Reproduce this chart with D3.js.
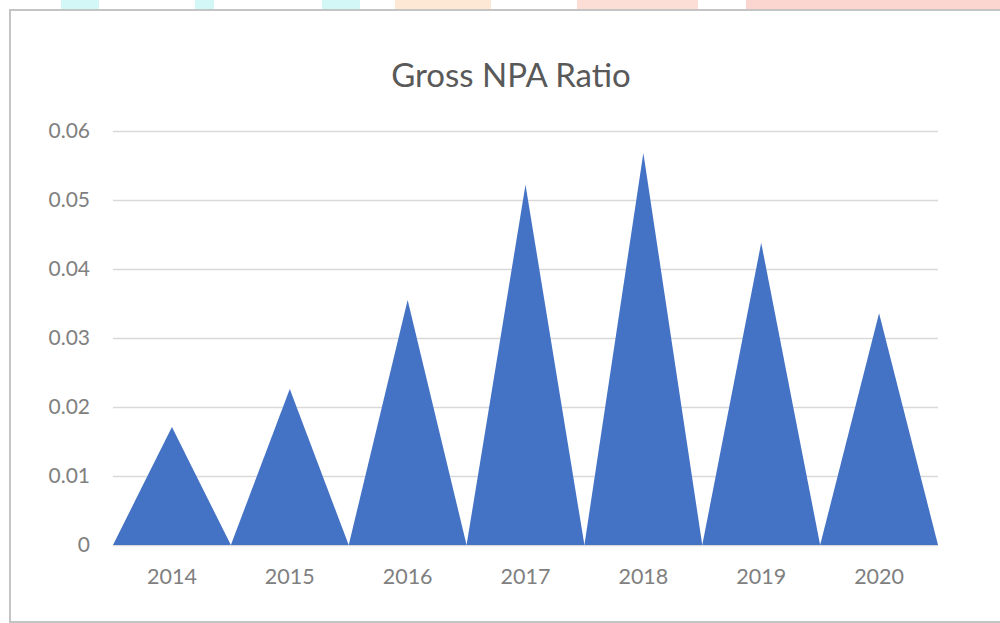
<!DOCTYPE html>
<html>
<head>
<meta charset="utf-8">
<script src="https://cdn.jsdelivr.net/npm/d3@7"></script>
<style>
  html, body { margin: 0; padding: 0; background: #fff; }
  svg { display: block; }
</style>
</head>
<body>
<script>
// data
const years = ['2014', '2015', '2016', '2017', '2018', '2019', '2020'];
const npaRatio = [0.0171, 0.0226, 0.0355, 0.0522, 0.0568, 0.0438, 0.0336];
const yTicks = [0, 0.01, 0.02, 0.03, 0.04, 0.05, 0.06];
const title = 'Gross NPA Ratio';

// faint coloured strip above the frame (scan edge)
const stripStarts = [61, 195, 322, 395, 577, 746];
const stripEnds = [99, 214, 360, 491, 698, 1000];
const stripColors = ['#d3f7f7', '#d3f7f7', '#d3f7f7', '#fde8d6', '#fcded6', '#fbd5cf'];

let width = 1000,
    height = 623;

let svg = d3.select('body').append('svg').attr('width', width).attr('height', height);

// strip + frame
svg.selectAll('rect.strip')
    .data(d3.range(stripStarts.length))
    .join('rect')
    .attr('class', 'strip')
    .attr('x', i => stripStarts[i])
    .attr('y', 0)
    .attr('width', i => stripEnds[i] - stripStarts[i])
    .attr('height', 9)
    .style('fill', i => stripColors[i]);

svg.append('rect')
    .attr('x', 10).attr('y', 10)
    .attr('width', 1000).attr('height', 612)
    .style('fill', '#fff')
    .style('stroke', '#c4c4c4')
    .style('stroke-width', '2px');

let xScale = d3.scaleBand(years, [113, 938]).padding(0),
    yScale = d3.scaleLinear([0, 0.06], [545, 131]);

// gridlines
let grid = svg.append('g')
    .attr('transform', 'translate(113,0)')
    .call(d3.axisLeft(yScale).tickValues(yTicks).tickSize(-(938 - 113)).tickFormat(''));
grid.select('.domain').remove();
grid.selectAll('line').style('stroke', '#d9d9d9').style('stroke-width', '1.5px');

// triangles
let tri = d => {
    let x0 = xScale(d[0]), x1 = x0 + xScale.bandwidth(), xc = (x0 + x1) / 2;
    return `M${x0},${yScale(0)}L${xc},${yScale(d[1])}L${x1},${yScale(0)}Z`;
};
svg.append('g').selectAll('path')
    .data(d3.zip(years, npaRatio))
    .join('path')
    .attr('d', tri)
    .style('fill', '#4472c4');

// y labels
let yAxis = svg.append('g')
    .attr('transform', 'translate(90,0)')
    .call(d3.axisLeft(yScale).tickValues(yTicks).tickSize(0).tickPadding(0)
        .tickFormat(d => d === 0 ? '0' : d3.format('.2f')(d)));
yAxis.select('.domain').remove();
yAxis.selectAll('text')
    .style('font-family', 'Lato, "Open Sans", sans-serif')
    .style('font-size', '21px')
    .style('fill', '#808080');

// x labels
let xAxis = svg.append('g')
    .attr('transform', 'translate(0,545)')
    .call(d3.axisBottom(xScale).tickSize(0).tickPadding(24));
xAxis.select('.domain').remove();
xAxis.selectAll('text')
    .style('font-family', 'Lato, "Open Sans", sans-serif')
    .style('font-size', '21.5px')
    .style('fill', '#808080');

// title
svg.append('text')
    .attr('x', 511)
    .attr('y', 87)
    .attr('text-anchor', 'middle')
    .style('font-family', 'Lato, "Open Sans", sans-serif')
    .style('font-size', '33px')
    .style('fill', '#595959')
    .text(title);
</script>
</body>
</html>
